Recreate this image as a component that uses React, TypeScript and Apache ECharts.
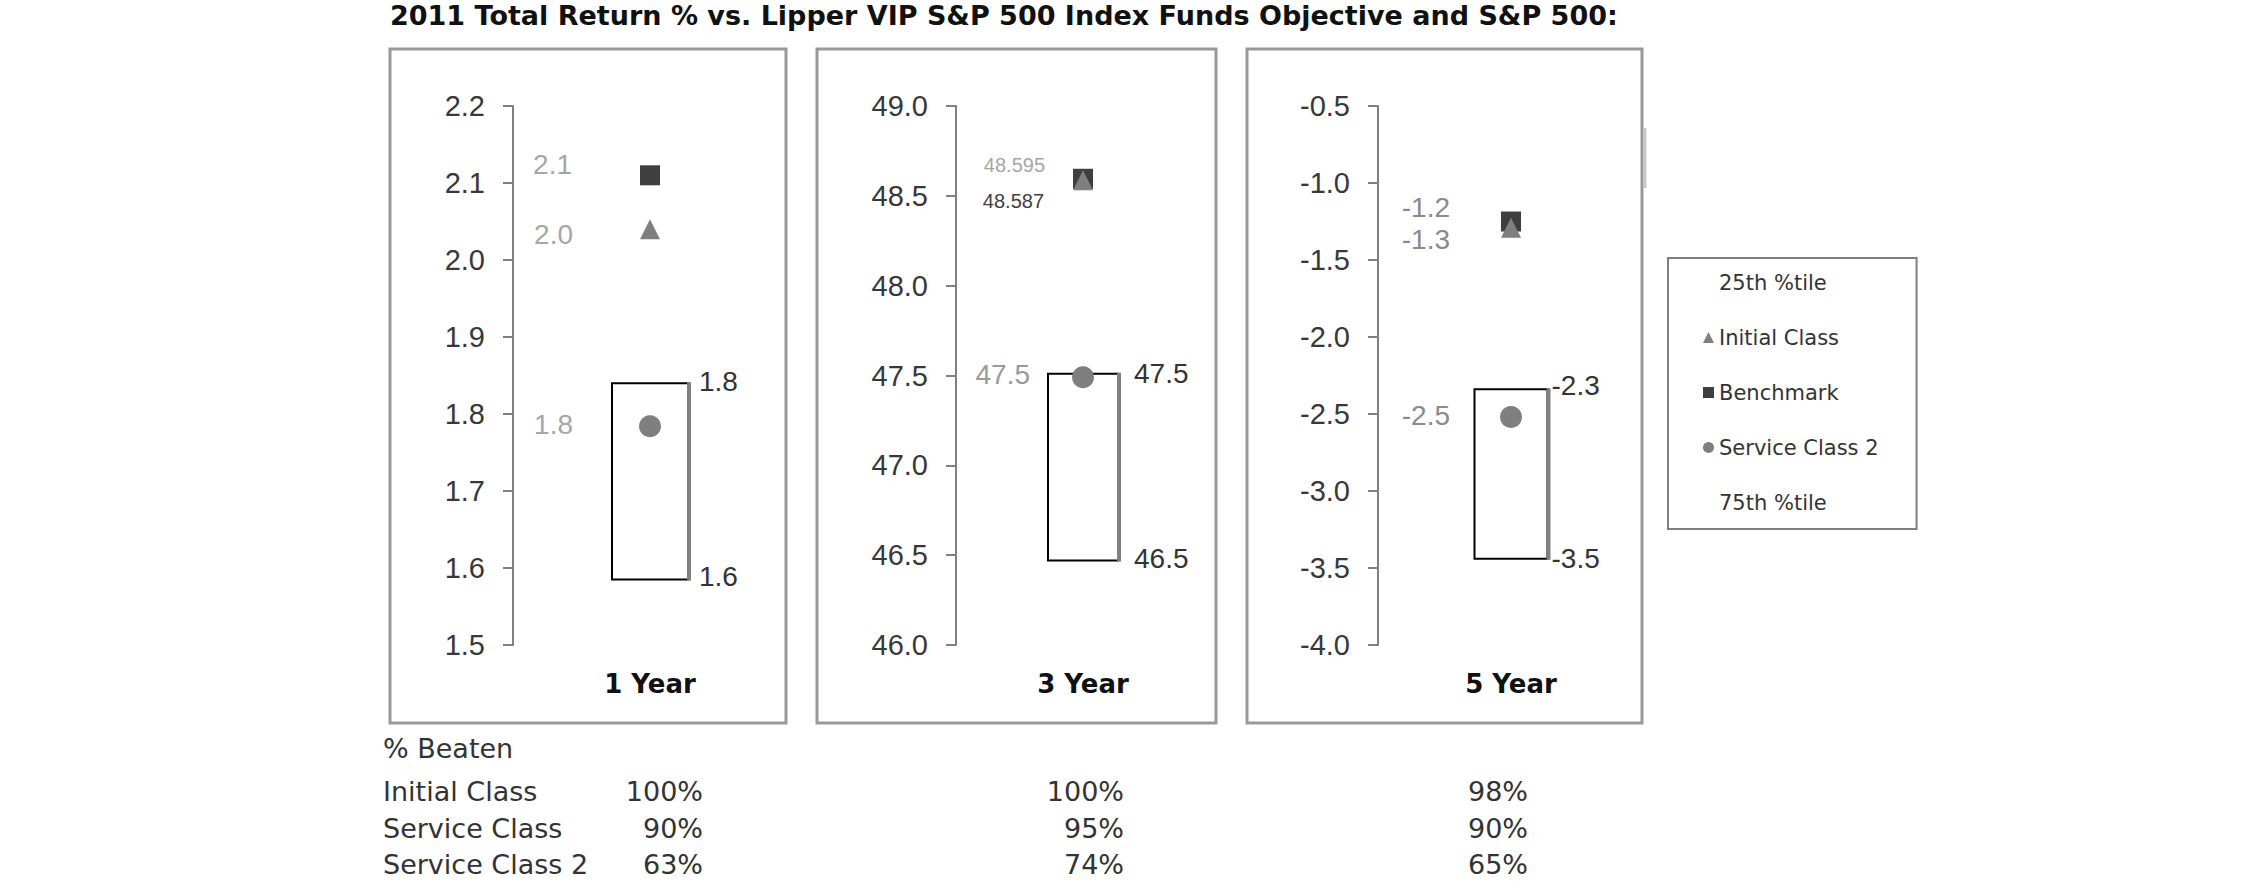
import React, { useEffect, useRef } from "react";
import * as echarts from "echarts";

// ---------- data ----------
const periods = ["1 Year", "3 Year", "5 Year"];
const axisMin = [1.5, 46.0, -4.0];
const axisMax = [2.2, 49.0, -0.5];
const axisStep = [0.1, 0.5, 0.5];

const benchmark = [2.11, 48.595, -1.25];
const initialClass = [2.04, 48.587, -1.29];
const serviceClass2 = [1.784, 47.49, -2.52];
const pct25 = [1.84, 47.51, -2.34];
const pct75 = [1.585, 46.47, -3.44];

const benchmarkLabels = ["2.1", "48.595", "-1.2"];
const initialLabels = ["2.0", "48.587", "-1.3"];
const sc2Labels = ["1.8", "47.5", "-2.5"];
const pct25Labels = ["1.8", "47.5", "-2.3"];
const pct75Labels = ["1.6", "46.5", "-3.5"];

const titleText = "2011 Total Return % vs. Lipper VIP S&P 500 Index Funds Objective and S&P 500:";
const beatenTitle = "% Beaten";
const beatenRows = ["Initial Class", "Service Class", "Service Class 2"];
const beatenInitial = [100, 100, 98];
const beatenService = [90, 95, 90];
const beatenService2 = [63, 74, 65];

// ---------- layout ----------
const gridLeft = [513, 956, 1378];
const gridRight = [787, 1210, 1644];
const gridTop = 106;
const gridHeight = 539;
const panelRects = [
  [390, 49, 396, 674],
  [817, 49, 399, 674],
  [1247, 49, 395, 674],
];
const boxWidth = [76, 70, 73];
const boxLabelGap = [11, 16, 4];
const boxLabelDy = [
  [-2, -3],
  [0, -2],
  [-4, 0],
];
// per panel: [benchmark, initial, service class 2]
const leftLabelDist = [
  [68, 67, 66],
  [28, 29, 42],
  [51, 51, 50],
];
const leftLabelDy = [
  [-11, 5, -2],
  [-14, 21, -3],
  [-14, 12, -2],
];
const leftLabelSize = [
  [28, 28, 28],
  [20, 20, 28],
  [28, 28, 28],
];
const leftLabelColor = [
  ["#a6a6a6", "#a6a6a6", "#a6a6a6"],
  ["#a6a6a6", "#404040", "#9a9a9a"],
  ["#8a8a8a", "#8a8a8a", "#8a8a8a"],
];
const valueRight = [703, 1124, 1528];
const tableRowY = [791, 828, 864];

const NUM_FONT = "Liberation Sans, Arial, sans-serif";
const SANS = "DejaVu Sans, Verdana, sans-serif";

function buildOption() {
  const grids: any[] = [];
  const xAxes: any[] = [];
  const yAxes: any[] = [];
  const series: any[] = [];

  for (let i = 0; i < 3; i++) {
    grids.push({
      left: gridLeft[i],
      width: gridRight[i] - gridLeft[i],
      top: gridTop,
      height: gridHeight,
    });
    xAxes.push({
      type: "category",
      gridIndex: i,
      data: [periods[i]],
      axisLine: { show: false },
      axisTick: { show: false },
      splitLine: { show: false },
      axisLabel: {
        margin: 26,
        fontFamily: SANS,
        fontWeight: "bold",
        fontSize: 26,
        color: "#111",
      },
    });
    yAxes.push({
      type: "value",
      gridIndex: i,
      min: axisMin[i],
      max: axisMax[i],
      interval: axisStep[i],
      axisLine: { show: true, lineStyle: { color: "#808080", width: 2 } },
      axisTick: { show: true, length: 10, lineStyle: { color: "#808080", width: 2 } },
      splitLine: { show: false },
      axisLabel: {
        margin: 28,
        fontSize: 29,
        fontFamily: NUM_FONT,
        color: "#383838",
        formatter: (v: number) => v.toFixed(1),
      },
    });

    const idx = i;
    series.push({
      type: "custom",
      name: "25th %tile",
      xAxisIndex: i,
      yAxisIndex: i,
      silent: true,
      z: 1,
      data: [[0, pct25[i], pct75[i]]],
      renderItem: (params: any, api: any) => {
        const top = api.coord([api.value(0), api.value(1)]);
        const bot = api.coord([api.value(0), api.value(2)]);
        const w = boxWidth[idx];
        const x0 = top[0] - w / 2;
        const x1 = x0 + w;
        return {
          type: "group",
          children: [
            {
              type: "rect",
              shape: { x: x0, y: top[1], width: w, height: bot[1] - top[1] },
              style: { fill: "#ffffff", stroke: "#000000", lineWidth: 2 },
            },
            {
              type: "line",
              shape: { x1: x1 + 1, y1: top[1] - 1, x2: x1 + 1, y2: bot[1] + 1 },
              style: { stroke: "#808080", lineWidth: 4 },
            },
            {
              type: "text",
              x: x1 + boxLabelGap[idx],
              y: top[1] + boxLabelDy[idx][0],
              style: {
                text: pct25Labels[idx],
                fill: "#333333",
                fontSize: 28,
                fontFamily: NUM_FONT,
                align: "left",
                verticalAlign: "middle",
              },
            },
            {
              type: "text",
              x: x1 + boxLabelGap[idx],
              y: bot[1] + boxLabelDy[idx][1],
              style: {
                text: pct75Labels[idx],
                fill: "#333333",
                fontSize: 28,
                fontFamily: NUM_FONT,
                align: "left",
                verticalAlign: "middle",
              },
            },
          ],
        };
      },
    });

    const mk = (
      name: string,
      symbol: string,
      size: number,
      color: string,
      values: number[],
      labels: string[],
      k: number
    ) => ({
      type: "scatter",
      name,
      xAxisIndex: i,
      yAxisIndex: i,
      symbol,
      symbolSize: size,
      z: 3 + k,
      itemStyle: { color, opacity: 1 },
      data: [[0, values[i]]],
      label: {
        show: true,
        position: "left",
        distance: leftLabelDist[i][k],
        offset: [0, leftLabelDy[i][k]],
        formatter: () => labels[idx],
        fontSize: leftLabelSize[i][k],
        fontFamily: NUM_FONT,
        color: leftLabelColor[i][k],
      },
    });
    series.push(mk("Benchmark", "rect", 20, "#3f3f3f", benchmark, benchmarkLabels, 0));
    series.push(mk("Initial Class", "triangle", 20, "#7f7f7f", initialClass, initialLabels, 1));
    series.push(mk("Service Class 2", "circle", 22, "#7f7f7f", serviceClass2, sc2Labels, 2));
  }
  series.push({
    type: "scatter",
    name: "75th %tile",
    xAxisIndex: 0,
    yAxisIndex: 0,
    data: [],
  });

  const graphic: any[] = [];
  panelRects.forEach((r) => {
    graphic.push({
      type: "rect",
      shape: { x: r[0], y: r[1], width: r[2], height: r[3] },
      style: { fill: "none", stroke: "#999999", lineWidth: 3 },
      silent: true,
    });
  });
  graphic.push({
    type: "line",
    shape: { x1: 1645, y1: 128, x2: 1645, y2: 188 },
    style: { stroke: "#c8c8c8", lineWidth: 3 },
    silent: true,
  });
  const txt = (text: string, x: number, y: number, align: string) => ({
    type: "text",
    x,
    y,
    silent: true,
    style: {
      text,
      fill: "#333333",
      fontSize: 27,
      fontFamily: SANS,
      align,
      verticalAlign: "middle",
    },
  });
  graphic.push(txt(beatenTitle, 383, 748, "left"));
  const cols = [beatenInitial, beatenService, beatenService2];
  beatenRows.forEach((row, r) => {
    graphic.push(txt(row, 383, tableRowY[r], "left"));
    for (let c = 0; c < 3; c++) {
      graphic.push(txt(cols[r][c] + "%", valueRight[c], tableRowY[r], "right"));
    }
  });

  return {
    animation: false,
    backgroundColor: "#ffffff",
    title: {
      text: titleText,
      left: 390,
      top: 2,
      padding: 0,
      textStyle: { fontFamily: SANS, fontWeight: "bold", fontSize: 27, color: "#111" },
    },
    legend: {
      orient: "vertical",
      left: 1668,
      top: 258,
      padding: [14, 38, 16, 35],
      itemGap: 34,
      itemWidth: 11,
      itemHeight: 11,
      borderColor: "#808080",
      borderWidth: 2,
      backgroundColor: "#ffffff",
      selectedMode: false,
      textStyle: { fontFamily: SANS, fontSize: 21, color: "#333333" },
      data: [
        { name: "25th %tile", icon: "none", itemStyle: { opacity: 0 } },
        { name: "Initial Class", icon: "triangle" },
        { name: "Benchmark", icon: "rect" },
        { name: "Service Class 2", icon: "circle" },
        { name: "75th %tile", icon: "none", itemStyle: { opacity: 0 } },
      ],
    },
    grid: grids,
    xAxis: xAxes,
    yAxis: yAxes,
    series,
    graphic,
  };
}

export default function App() {
  const ref = useRef<HTMLDivElement>(null);
  useEffect(() => {
    if (!ref.current) return;
    const chart = echarts.init(ref.current, null, { renderer: "svg" });
    chart.setOption(buildOption() as any);
    return () => chart.dispose();
  }, []);
  return (
    <div
      ref={ref}
      style={{ position: "fixed", left: 0, top: 0, width: 2250, height: 895, background: "#fff" }}
    />
  );
}
